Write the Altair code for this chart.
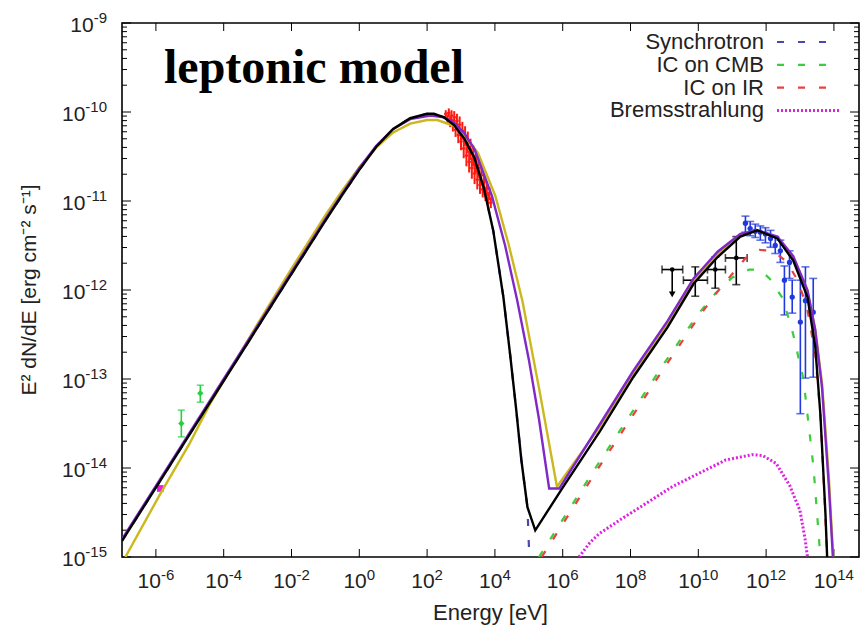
import altair as alt
import pandas as pd

# ---------------- model curves: log10(E / eV) and log10(E^2 dN/dE / erg cm^-2 s^-1)
black_logE = [-7.0, -6.0, -5.0, -4.0, -3.0, -2.0, -1.0, -0.5, 0.0, 0.5, 1.0, 1.5, 2.0, 2.2, 2.5, 2.8,
              3.1, 3.4, 3.67, 3.95, 4.25, 4.45, 4.63, 4.78, 4.96, 5.19, 6.0, 7.11, 8.08, 9.09, 9.86,
              10.57, 11.24, 11.74, 12.33, 12.80, 13.22, 13.45, 13.60, 13.75, 13.80]
black_logF = [-14.82, -14.22, -13.62, -13.02, -12.42, -11.82, -11.22, -10.93, -10.65, -10.39, -10.19,
              -10.07, -10.02, -10.02, -10.06, -10.15, -10.30, -10.52, -10.85, -11.33, -12.08, -12.73,
              -13.35, -13.91, -14.44, -14.70, -14.22, -13.58, -12.98, -12.42, -11.93, -11.63, -11.40,
              -11.33, -11.42, -11.67, -12.08, -12.64, -13.39, -14.51, -15.0]

purple_logE = [-7.0, -6.0, -5.0, -4.0, -3.0, -2.0, -1.0, 0.0, 0.5, 1.0, 1.5, 2.1, 2.5, 2.8, 3.1, 3.4,
               3.91, 4.3, 4.66, 5.0, 5.3, 5.60, 5.90, 7.11, 8.08, 9.09, 9.86, 10.57, 11.24, 11.74, 12.33,
               12.80, 13.22, 13.45, 13.65, 13.85, 13.97]
purple_logF = [-14.80, -14.20, -13.60, -13.00, -12.40, -11.80, -11.20, -10.63, -10.38, -10.19, -10.08,
               -10.04, -10.06, -10.12, -10.24, -10.42, -10.94, -11.50, -12.12, -12.78, -13.45, -14.23,
               -14.23, -13.50, -12.91, -12.35, -11.87, -11.57, -11.37, -11.33, -11.40, -11.62, -12.00,
               -12.45, -13.10, -14.20, -15.0]

yellow_logE = [-6.9, -5.87, -5.0, -4.39, -3.0, -2.0, -1.0, -0.5, 0.0, 0.5, 1.0, 1.5, 2.0, 2.3, 2.9, 3.5,
               4.01, 4.4, 4.81, 5.3, 5.83, 7.11, 8.08, 9.09, 9.86, 10.57, 11.24, 11.74, 12.33, 12.80,
               13.22, 13.45, 13.65, 13.85, 13.98]
yellow_logF = [-15.0, -14.29, -13.72, -13.27, -12.38, -11.76, -11.16, -10.88, -10.62, -10.40, -10.23,
               -10.13, -10.09, -10.09, -10.17, -10.46, -10.94, -11.48, -12.12, -13.10, -14.21, -13.53,
               -12.94, -12.38, -11.90, -11.60, -11.38, -11.33, -11.41, -11.63, -12.01, -12.45, -13.05,
               -14.10, -15.0]

sync_logE = [-7.0, -6.0, -5.0, -4.0, -3.0, -2.0, -1.0, -0.5, 0.0, 0.5, 1.0, 1.5, 2.0, 2.2, 2.5, 2.8,
             3.1, 3.4, 3.67, 3.95, 4.25, 4.45, 4.63, 4.78, 4.96, 4.99, 5.02]
sync_logF = [-14.82, -14.22, -13.62, -13.02, -12.42, -11.82, -11.22, -10.93, -10.65, -10.39, -10.19,
             -10.07, -10.02, -10.02, -10.06, -10.15, -10.30, -10.52, -10.85, -11.33, -12.08, -12.73,
             -13.35, -13.91, -14.44, -14.75, -15.05]

cmb_logE = [5.3, 6.0, 7.0, 8.0, 9.0, 10.0, 10.5, 11.0, 11.5, 11.8, 12.1, 12.5, 12.8, 13.1, 13.25, 13.4,
            13.5, 13.6]
cmb_logF = [-15.0, -14.58, -13.98, -13.40, -12.82, -12.27, -12.04, -11.86, -11.77, -11.77, -11.87,
            -12.10, -12.50, -13.0, -13.50, -14.0, -14.5, -15.0]

ir_logE = [5.38, 6.0, 7.0, 8.0, 9.0, 10.0, 10.5, 11.0, 11.4, 11.8, 12.2, 12.6, 12.9, 13.2, 13.45, 13.6,
           13.72, 13.8]
ir_logF = [-15.0, -14.63, -14.03, -13.45, -12.87, -12.31, -12.05, -11.82, -11.64, -11.55, -11.56,
           -11.68, -11.87, -12.18, -12.72, -13.4, -14.3, -15.0]

brems_logE = [6.48, 6.8, 7.07, 7.66, 8.45, 9.23, 10.02, 10.81, 11.59, 11.9, 12.3, 12.7, 13.0, 13.15, 13.22]
brems_logF = [-15.0, -14.84, -14.74, -14.59, -14.40, -14.21, -14.06, -13.91, -13.85, -13.86, -13.95,
              -14.2, -14.48, -14.8, -15.0]

# ---------------- measured points
radio_logE = [-5.87]
radio_logF = [-14.23]

ir_pts_logE = [-5.25, -4.69]
ir_pts_logF = [-13.50, -13.16]
ir_pts_lo = [-13.65, -13.26]
ir_pts_hi = [-13.35, -13.07]

xray_logE = [2.55, 2.60, 2.64, 2.68, 2.72, 2.76, 2.80, 2.84, 2.88, 2.92, 2.96, 3.00, 3.04, 3.08, 3.12,
             3.16, 3.20, 3.24, 3.28, 3.32, 3.36, 3.40, 3.44, 3.48, 3.52, 3.56, 3.60, 3.64, 3.68, 3.72,
             3.76, 3.80, 3.84, 3.88]
xray_logF = [-10.02, -10.08, -10.01, -10.11, -10.04, -10.15, -10.06, -10.20, -10.10, -10.26, -10.14,
             -10.33, -10.21, -10.41, -10.27, -10.49, -10.34, -10.56, -10.42, -10.63, -10.49, -10.69,
             -10.56, -10.76, -10.63, -10.82, -10.71, -10.87, -10.79, -10.92, -10.86, -10.97, -10.92,
             -11.02]
xray_err = [0.04, 0.05, 0.05, 0.06, 0.06, 0.07, 0.07, 0.08, 0.08, 0.09, 0.09, 0.10, 0.10, 0.11, 0.11,
            0.12, 0.12, 0.12, 0.12, 0.12, 0.12, 0.12, 0.12, 0.11, 0.11, 0.10, 0.10, 0.09, 0.09, 0.08,
            0.08, 0.07, 0.07, 0.06]

fermi_logE = [9.23, 9.91, 10.50, 11.12]
fermi_logF = [-11.77, -11.89, -11.77, -11.64]
fermi_lo = [-12.05, -12.07, -11.98, -11.94]
fermi_hi = [-11.77, -11.74, -11.63, -11.40]
fermi_xlo = [8.93, 9.56, 10.27, 10.80]
fermi_xhi = [9.54, 10.27, 10.80, 11.44]
fermi_upper_limit = [True, False, False, False]

hess_logE = [11.39, 11.53, 11.68, 11.83, 11.98, 12.13, 12.27, 12.42, 12.54, 12.69, 12.77, 13.01, 13.16, 13.39]
hess_logF = [-11.25, -11.31, -11.34, -11.35, -11.37, -11.42, -11.50, -11.56, -11.89, -11.69, -12.08,
             -12.36, -12.12, -12.25]
hess_lo = [-11.35, -11.39, -11.41, -11.44, -11.47, -11.52, -11.59, -11.69, -12.28, -11.87, -12.26,
           -13.39, -12.99, -12.98]
hess_hi = [-11.17, -11.23, -11.26, -11.28, -11.30, -11.33, -11.40, -11.44, -11.73, -11.56, -11.89,
           -11.89, -11.74, -11.87]

# ---------------- axes text
x_tick_vals = [1e-6, 1e-4, 1e-2, 1e0, 1e2, 1e4, 1e6, 1e8, 1e10, 1e12, 1e14]
x_tick_exp = ["-6", "-4", "-2", "0", "2", "4", "6", "8", "10", "12", "14"]
y_tick_vals = [1e-15, 1e-14, 1e-13, 1e-12, 1e-11, 1e-10, 1e-9]
y_tick_exp = ["-15", "-14", "-13", "-12", "-11", "-10", "-9"]
x_title = "Energy [eV]"
y_title = "E\u00b2 dN/dE [erg cm\u207b\u00b2 s\u207b\u00b9]"
chart_label = "leptonic model"
legend_labels = ["Synchrotron", "IC on CMB", "IC on IR", "Bremsstrahlung"]

# ---------------- layout / style
W, H = 737, 534
FONT = "Liberation Sans"
BLACK, PURPLE, YELLOW = "#000000", "#8028c8", "#cbb81e"
C_SYNC, C_CMB, C_IR, C_BREMS = "#4848b0", "#3ccc3c", "#e84040", "#e020e0"
C_HESS, C_XRAY, C_GREEN = "#2038e0", "#ff1a10", "#22d040"
DASH = [7, 14]

xs = alt.Scale(type="log", domain=[1e-7, 10 ** 14.74], nice=False)
ys = alt.Scale(type="log", domain=[1e-15, 1e-9], nice=False)


def ex(f="E"):
    return alt.X(f"{f}:Q", scale=xs, axis=None)


def ey(f="F"):
    return alt.Y(f"{f}:Q", scale=ys, axis=None)


def p10(vals):
    return [10 ** v for v in vals]


def curve_df(le, lf):
    return pd.DataFrame({"E": p10(le), "F": p10(lf), "i": list(range(len(le)))})


def line(le, lf, color, width=2.3, dash=None):
    kw = dict(color=color, strokeWidth=width, clip=True)
    if dash:
        kw["strokeDash"] = dash
    return alt.Chart(curve_df(le, lf)).mark_line(**kw).encode(x=ex(), y=ey(), order="i:Q")


layers = []

# ---- inward ticks on all four sides
y_minor = [k * v for v in y_tick_vals[:-1] for k in range(2, 10)]
ymaj = pd.DataFrame({"v": y_tick_vals})
ymin = pd.DataFrame({"v": y_minor})
xmaj = pd.DataFrame({"v": x_tick_vals})
for df, ln in ((ymaj, 9), (ymin, 5)):
    layers.append(alt.Chart(df).mark_rule(color="black", strokeWidth=1).encode(
        y=ey("v"), x=alt.value(0), x2=alt.value(ln)))
    layers.append(alt.Chart(df).mark_rule(color="black", strokeWidth=1).encode(
        y=ey("v"), x=alt.value(W - ln), x2=alt.value(W)))
layers.append(alt.Chart(xmaj).mark_rule(color="black", strokeWidth=1).encode(
    x=ex("v"), y=alt.value(H - 8), y2=alt.value(H)))
layers.append(alt.Chart(xmaj).mark_rule(color="black", strokeWidth=1).encode(
    x=ex("v"), y=alt.value(0), y2=alt.value(8)))

# ---- X-ray data (red crosses)
xray = pd.DataFrame({
    "E": p10(xray_logE), "F": p10(xray_logF),
    "lo": [10 ** (f - e) for f, e in zip(xray_logF, xray_err)],
    "hi": [10 ** (f + e) for f, e in zip(xray_logF, xray_err)],
    "xlo": [10 ** (v - 0.05) for v in xray_logE],
    "xhi": [10 ** (v + 0.05) for v in xray_logE],
})
layers.append(alt.Chart(xray).mark_rule(color=C_XRAY, strokeWidth=2).encode(x=ex(), y=ey("lo"), y2="hi"))
layers.append(alt.Chart(xray).mark_rule(color=C_XRAY, strokeWidth=2).encode(x=ex("xlo"), x2="xhi", y=ey()))

# ---- HESS data (blue)
hess = pd.DataFrame({"E": p10(hess_logE), "F": p10(hess_logF), "lo": p10(hess_lo), "hi": p10(hess_hi)})
layers.append(alt.Chart(hess).mark_rule(color=C_HESS, strokeWidth=1.6).encode(x=ex(), y=ey("lo"), y2="hi"))
for f in ("lo", "hi"):
    layers.append(alt.Chart(hess).mark_tick(color=C_HESS, orient="horizontal", size=8, thickness=1.6)
                  .encode(x=ex(), y=ey(f)))
layers.append(alt.Chart(hess).mark_point(color=C_HESS, filled=True, size=28, opacity=1).encode(x=ex(), y=ey()))

# ---- Fermi data (black)
fermi = pd.DataFrame({"E": p10(fermi_logE), "F": p10(fermi_logF), "lo": p10(fermi_lo),
                      "hi": p10(fermi_hi), "xlo": p10(fermi_xlo), "xhi": p10(fermi_xhi),
                      "ul": fermi_upper_limit})
fermi_pts = fermi[~fermi["ul"]]
fermi_ul = fermi[fermi["ul"]]
layers.append(alt.Chart(fermi).mark_rule(color=BLACK, strokeWidth=1.6).encode(x=ex(), y=ey("lo"), y2="hi"))
layers.append(alt.Chart(fermi).mark_rule(color=BLACK, strokeWidth=1.6).encode(x=ex("xlo"), x2="xhi", y=ey()))
for f in ("xlo", "xhi"):
    layers.append(alt.Chart(fermi).mark_tick(color=BLACK, orient="vertical", size=8, thickness=1.6)
                  .encode(x=ex(f), y=ey()))
for f in ("lo", "hi"):
    layers.append(alt.Chart(fermi_pts).mark_tick(color=BLACK, orient="horizontal", size=8, thickness=1.6)
                  .encode(x=ex(), y=ey(f)))
layers.append(alt.Chart(fermi).mark_point(color=BLACK, filled=True, size=22, opacity=1).encode(x=ex(), y=ey()))
layers.append(alt.Chart(fermi_ul).mark_point(color=BLACK, filled=True, shape="triangle-down", size=45,
                                             opacity=1).encode(x=ex(), y=ey("lo")))

# ---- radio / IR points
greens = pd.DataFrame({"E": p10(ir_pts_logE), "F": p10(ir_pts_logF), "lo": p10(ir_pts_lo), "hi": p10(ir_pts_hi)})
layers.append(alt.Chart(greens).mark_rule(color=C_GREEN, strokeWidth=1.6).encode(x=ex(), y=ey("lo"), y2="hi"))
for f in ("lo", "hi"):
    layers.append(alt.Chart(greens).mark_tick(color=C_GREEN, orient="horizontal", size=7, thickness=1.6)
                  .encode(x=ex(), y=ey(f)))
layers.append(alt.Chart(greens).mark_point(color=C_GREEN, filled=True, shape="diamond", size=40, opacity=1)
              .encode(x=ex(), y=ey()))
radio = pd.DataFrame({"E": p10(radio_logE), "F": p10(radio_logF)})
layers.append(alt.Chart(radio).mark_point(color=C_BREMS, filled=True, shape="square", size=45, opacity=1)
              .encode(x=ex(), y=ey()))

# ---- model components
layers.append(line(sync_logE, sync_logF, C_SYNC, 2.2, DASH))
layers.append(line(cmb_logE, cmb_logF, C_CMB, 2.2, DASH))
layers.append(line(ir_logE, ir_logF, C_IR, 2.2, DASH))
layers.append(line(brems_logE, brems_logF, C_BREMS, 3.0, [2, 2]))

# ---- total models
layers.append(line(yellow_logE, yellow_logF, YELLOW, 2.4))
layers.append(line(purple_logE, purple_logF, PURPLE, 2.4))
layers.append(line(black_logE, black_logF, BLACK, 2.4))

# ---- tick labels: "10" with raised exponent
def exp_width(s):
    return sum(5.0 if ch == "-" else 8.34 for ch in s)

BASE_W = 23.35
xl = pd.DataFrame({"v": x_tick_vals, "exp": x_tick_exp})
xl["dx"] = [round((BASE_W - exp_width(s)) / 2, 1) for s in x_tick_exp]
for dxv in sorted(set(xl["dx"])):
    sub = xl[xl["dx"] == dxv]
    layers.append(alt.Chart(sub).mark_text(font=FONT, fontSize=21, align="right", baseline="middle",
                                           dx=dxv, color="#222222")
                  .encode(x=ex("v"), y=alt.value(H + 25), text=alt.value("10")))
    layers.append(alt.Chart(sub).mark_text(font=FONT, fontSize=15, align="left", baseline="middle",
                                           dx=dxv, color="#222222")
                  .encode(x=ex("v"), y=alt.value(H + 18), text="exp:N"))

yl = pd.DataFrame({"v": y_tick_vals, "exp": y_tick_exp})
yl["bx"] = [-15 - exp_width(s) for s in y_tick_exp]
layers.append(alt.Chart(yl).mark_text(font=FONT, fontSize=21, align="right", baseline="middle", dy=3,
                                      color="#222222")
              .encode(x=alt.X("bx:Q", scale=None, axis=None), y=ey("v"), text=alt.value("10")))
layers.append(alt.Chart(yl).mark_text(font=FONT, fontSize=15, align="right", baseline="middle", dy=-5,
                                      color="#222222")
              .encode(x=alt.value(-15), y=ey("v"), text="exp:N"))

# ---- axis titles
layers.append(alt.Chart(pd.DataFrame({"t": [x_title]})).mark_text(
    font=FONT, fontSize=22, align="center", baseline="middle", color="#222222")
    .encode(x=alt.value(W / 2), y=alt.value(H + 56), text="t:N"))
layers.append(alt.Chart(pd.DataFrame({"t": [y_title]})).mark_text(
    font=FONT, fontSize=21, align="center", baseline="middle", angle=270, color="#222222")
    .encode(x=alt.value(-92), y=alt.value(H / 2), text="t:N"))

# ---- in-plot label
layers.append(alt.Chart(pd.DataFrame({"t": [chart_label]})).mark_text(
    font="Liberation Serif", fontSize=48, fontWeight="bold", align="left", baseline="alphabetic",
    color="black").encode(x=alt.value(42), y=alt.value(60), text="t:N"))

# ---- legend (gnuplot style: label then sample)
legend_styles = [(C_SYNC, DASH, 2.2), (C_CMB, DASH, 2.2), (C_IR, DASH, 2.2), (C_BREMS, [2, 2], 3.0)]
for k, (lab, (col, dash, wd)) in enumerate(zip(legend_labels, legend_styles)):
    yy = 19 + k * 22.8
    layers.append(alt.Chart(pd.DataFrame({"t": [lab]})).mark_text(
        font=FONT, fontSize=22, align="right", baseline="middle", color="#222222")
        .encode(x=alt.value(642), y=alt.value(yy), text="t:N"))
    x_end = 717 if k == 3 else 712
    layers.append(alt.Chart(pd.DataFrame({"t": [lab]})).mark_rule(
        color=col, strokeDash=dash, strokeWidth=wd)
        .encode(x=alt.value(655), x2=alt.value(x_end), y=alt.value(yy)))

chart = (
    alt.layer(*layers)
    .properties(width=W, height=H, autosize=alt.AutoSizeParams(type="none"),
                padding={"left": 122, "top": 23, "right": 5, "bottom": 70})
    .configure(background="white")
    .configure_view(stroke="black", strokeWidth=1.6)
)

chart.save("out.html", embed_options={"renderer": "svg", "actions": False})
